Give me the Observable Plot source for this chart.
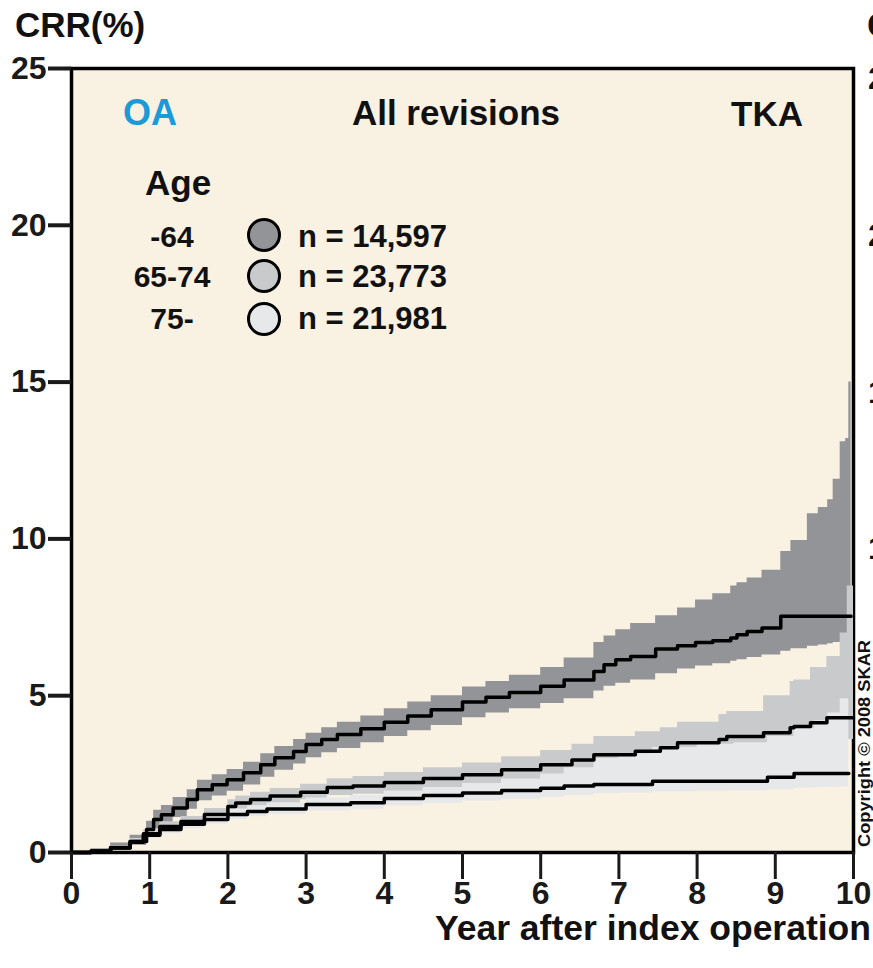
<!DOCTYPE html>
<html><head><meta charset="utf-8">
<script src="https://cdn.jsdelivr.net/npm/d3@7"></script>
<script src="https://cdn.jsdelivr.net/npm/@observablehq/plot@0.6"></script>
<style>
body{margin:0;background:#fff;overflow:hidden}
#chart{position:relative;width:873px;height:968px;overflow:hidden}
</style>
</head><body><div id="chart"></div>
<script>
// ---- Data ----
const xTicks = [0,1,2,3,4,5,6,7,8,9,10];
const yTicks = [0,5,10,15,20,25];
const ageLabels = ["-64","65-74","75-"];
const nLabels = ["n = 14,597","n = 23,773","n = 21,981"];
const bandColors = ["#939497","#c9cacc","#e7e8ea"];

// Age -64
const t64  = [0,0.25,0.5,0.75,0.96,1.05,1.15,1.3,1.48,1.61,1.8,1.99,2.2,2.42,2.6,2.84,3.0,3.2,3.4,3.7,4.0,4.3,4.6,5.0,5.3,5.6,6.0,6.3,6.68,6.81,6.96,7.15,7.47,7.75,7.98,8.2,8.43,8.51,8.64,8.83,9.07,9.2,9.41,9.55,9.67,9.74,9.83,9.9,9.94,9.97];
const e64  = [0,0.05,0.16,0.35,0.73,1.05,1.2,1.42,1.69,2.0,2.16,2.32,2.54,2.8,3.02,3.22,3.44,3.6,3.76,3.95,4.15,4.35,4.55,4.8,4.95,5.1,5.3,5.5,5.77,5.99,6.15,6.25,6.49,6.59,6.7,6.75,6.84,6.94,7.05,7.16,7.53,7.53,7.53,7.53,7.53,7.53,7.53,7.53,7.53,7.53];
const lo64 = [0,0,0.08,0.22,0.5,0.75,0.9,1.12,1.38,1.65,1.8,1.95,2.15,2.4,2.62,2.82,3.02,3.18,3.32,3.5,3.7,3.88,4.05,4.3,4.45,4.58,4.75,4.9,5.15,5.3,5.4,5.5,5.7,5.85,5.95,6.02,6.1,6.15,6.22,6.3,6.42,6.5,6.58,6.62,6.66,6.7,6.72,6.75,6.8,6.8];
const hi64 = [0,0.12,0.3,0.55,1.0,1.35,1.5,1.75,2.0,2.3,2.48,2.65,2.88,3.15,3.38,3.6,3.8,3.98,4.15,4.35,4.58,4.8,5.0,5.28,5.45,5.65,5.9,6.2,6.7,6.9,7.1,7.3,7.55,7.8,8.05,8.25,8.5,8.6,8.75,9.0,9.6,9.95,10.8,11.0,11.25,11.9,13.1,13.2,15.0,15.0];

// Age 65-74
const t65  = [0,0.25,0.5,0.75,0.92,1.13,1.4,1.7,2.0,2.1,2.29,2.54,2.93,3.27,3.6,4.0,4.5,5.0,5.5,6.0,6.4,6.68,7.21,7.53,7.75,8.28,8.38,8.85,9.19,9.24,9.45,9.66,9.83,9.92,10.0];
const e65  = [0,0.04,0.15,0.35,0.6,0.83,0.99,1.21,1.47,1.58,1.69,1.8,1.92,2.07,2.12,2.23,2.36,2.48,2.64,2.8,2.95,3.12,3.23,3.34,3.5,3.6,3.7,3.82,3.98,4.02,4.14,4.3,4.3,4.3,4.3];
const lo65 = [0,0.01,0.1,0.27,0.48,0.7,0.85,1.05,1.28,1.38,1.48,1.58,1.68,1.82,1.86,1.95,2.06,2.16,2.3,2.44,2.57,2.7,2.8,2.92,3.05,3.1,3.2,3.28,3.38,3.4,3.42,3.5,3.55,3.6,3.6];
const hi65 = [0,0.08,0.22,0.45,0.72,0.98,1.15,1.4,1.68,1.8,1.92,2.04,2.18,2.35,2.42,2.55,2.7,2.85,3.05,3.25,3.45,3.7,3.85,3.98,4.15,4.4,4.5,5.0,5.45,5.5,5.9,6.25,7.0,8.5,8.5];

// Age 75-
const t75  = [0,0.25,0.5,0.75,0.92,1.13,1.4,1.7,2.0,2.25,2.5,3.0,3.57,4.0,4.5,5.0,5.5,6.0,6.3,6.68,7.0,7.43,8.0,8.47,8.9,9.24,9.5,9.67,9.83,9.94];
const e75  = [0,0.04,0.14,0.33,0.55,0.73,0.9,1.05,1.21,1.31,1.39,1.53,1.59,1.72,1.82,1.9,1.98,2.05,2.12,2.17,2.17,2.27,2.27,2.27,2.4,2.52,2.52,2.52,2.52,2.52];
const lo75 = [0,0.01,0.09,0.25,0.45,0.6,0.76,0.9,1.05,1.14,1.21,1.33,1.38,1.48,1.57,1.64,1.7,1.76,1.82,1.88,1.9,1.93,1.95,1.97,2.0,2.05,2.07,2.08,2.1,2.1];
const hi75 = [0,0.08,0.2,0.42,0.65,0.85,1.02,1.2,1.38,1.48,1.57,1.74,1.82,1.95,2.07,2.2,2.34,2.5,2.7,3.0,3.15,3.35,3.45,3.5,3.7,3.95,4.2,4.45,4.9,5.5];

const groups = [
  {key: ageLabels[0], t: t64, e: e64, lo: lo64, hi: hi64, color: bandColors[0]},
  {key: ageLabels[1], t: t65, e: e65, lo: lo65, hi: hi65, color: bandColors[1]},
  {key: ageLabels[2], t: t75, e: e75, lo: lo75, hi: hi75, color: bandColors[2]}
];
const rows = groups.map(g => g.t.map((t, i) => ({group: g.key, t, est: g.e[i], lo: g.lo[i], hi: g.hi[i]})));

const bg = "#f9f1e2";
const font = "'Liberation Sans', Arial, Helvetica, sans-serif";

const chart = Plot.plot({
  width: 873, height: 968,
  marginLeft: 71, marginRight: 20, marginTop: 68, marginBottom: 116,
  x: {domain: [0, 10]},
  y: {domain: [0, 25]},
  style: {fontFamily: font, color: "#1a1a1a", background: "#fff", overflow: "visible"},
  marks: [
    Plot.frame({fill: bg, stroke: null}),
    Plot.frame({stroke: "black", strokeWidth: 3.5}),
    ...groups.map((g, i) => Plot.areaY(rows[i], {x: "t", y1: "lo", y2: "hi", fill: g.color, curve: "step-after"})),
    ...groups.map((g, i) => Plot.line(rows[i], {x: "t", y: "est", stroke: "black", strokeWidth: 3.5, curve: "step-after"})),
    Plot.axisX({ticks: xTicks, tickSize: 27, strokeWidth: 3, tickPadding: 2, fontSize: 32, fontWeight: "bold", label: null, tickFormat: d => String(d)}),
    Plot.axisY({ticks: yTicks, tickSize: 23, strokeWidth: 4, tickPadding: 2, fontSize: 32, fontWeight: "bold", label: null, tickFormat: d => String(d)})
  ]
});
document.getElementById("chart").appendChild(chart);

// ---- Annotations ----
const svg = d3.select(chart);
const ann = svg.append("g").attr("font-family", font).attr("font-weight", "bold").attr("fill", "#111").attr("text-anchor", "start");
function txt(s, x, y, size, anchor = "start", color = "#111") {
  return ann.append("text").attr("x", x).attr("y", y).attr("font-size", size)
    .attr("text-anchor", anchor).attr("fill", color).text(s);
}
txt("CRR(%)", 15, 37, 35);
txt("OA", 123, 125, 36, "start", "#1b9ad6");
txt("All revisions", 456, 125, 35, "middle");
txt("TKA", 803, 126, 35, "end");
txt("Age", 145, 195, 35);
const rowY = [247, 287, 329];
const circY = [235, 276, 319];
ageLabels.forEach((a, i) => {
  txt(a, 172, rowY[i], 30, "middle");
  ann.append("circle").attr("cx", 264).attr("cy", circY[i]).attr("r", 15.5)
    .attr("fill", bandColors[i]).attr("stroke", "black").attr("stroke-width", 3);
  txt(nLabels[i], 298, rowY[i], 31);
});
txt("Year after index operation", 871, 940, 35.5, "end");
// copyright, vertical (reads bottom to top)
ann.append("text").attr("transform", "translate(870,847) rotate(-90)")
  .attr("text-anchor", "start")
  .attr("font-size", 16).attr("textLength", 207).attr("lengthAdjust", "spacingAndGlyphs")
  .text("Copyright © 2008 SKAR");
// slivers of the neighbouring panel at the right edge
txt("CRR(%)", 867, 37, 35);
[["25", 25], ["20", 20], ["15", 15], ["10", 10]].forEach(([s, v]) => {
  const y = 852 - v * 31.36;
  txt(s, 868, y + 10 + 11, 32);
});
</script></body></html>
